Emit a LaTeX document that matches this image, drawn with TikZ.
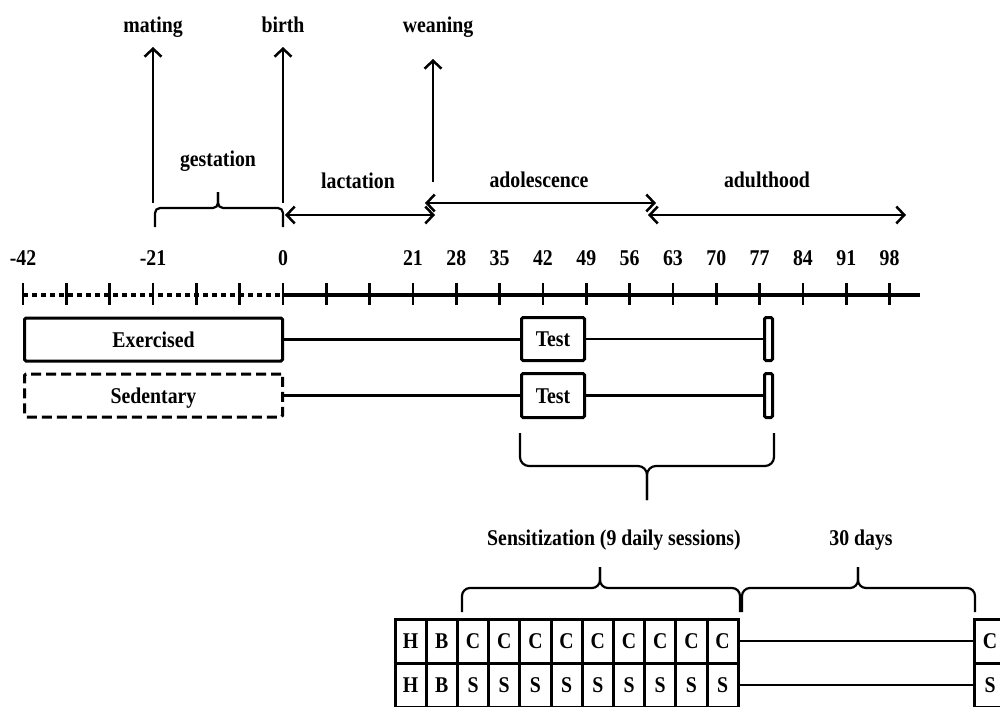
\documentclass[tikz,border=0pt]{standalone}
\usepackage{fontspec}
\setmainfont{Liberation Serif}[FakeStretch=0.88]
\usetikzlibrary{arrows.meta}
\tikzset{mytip/.tip={Straight Barb[length=8pt,width=17pt,line width=2.5pt]}}
\begin{document}
\begin{tikzpicture}[x=1pt,y=-1pt,
  lbl/.style={font=\fontsize{22.5}{27}\selectfont\bfseries, inner sep=0pt, anchor=base},
  box/.style={draw, line width=3pt, font=\fontsize{22.5}{27}\selectfont\bfseries, inner sep=0pt, text height=15pt, text depth=0pt, rounded corners=1.5pt},
  dbox/.style={box, dash pattern=on 10pt off 5pt},
  cell/.style={draw, line width=3pt, font=\fontsize{22.5}{27}\selectfont\bfseries, inner sep=0pt, text height=15pt, text depth=0pt, minimum width=31.2pt, minimum height=44pt},
  conn/.style={line width=2.2pt},
  tick/.style={line width=2.5pt},
  brc/.style={line width=2.2pt, rounded corners=7pt},
  arr/.style={line width=2.5pt, -{mytip}},
  darr/.style={line width=2.5pt, {mytip}-{mytip}}]
\useasboundingbox (0,0) rectangle (1000,706);

% top labels
\node[lbl] (mating) at (153,33) {mating};
\node[lbl] (birth) at (283,33) {birth};
\node[lbl] (weaning) at (438,33) {weaning};
\node[lbl] (gest) at (218,166) {gestation};
\node[lbl] (lact) at (358,188) {lactation};
\node[lbl] (adol) at (539,187) {adolescence};
\node[lbl] (adult) at (767,187) {adulthood};

% event arrows
\coordinate (m0) at (153,203); \coordinate (m1) at (153,47);
\coordinate (b0) at (283,203); \coordinate (b1) at (283,47);
\coordinate (w0) at (433,182); \coordinate (w1) at (433,59);
\draw[arr] (m0) -- (m1);
\draw[arr] (b0) -- (b1);
\draw[arr] (w0) -- (w1);

% period arrows
\coordinate (la0) at (285,215); \coordinate (la1) at (435,215);
\coordinate (ad0) at (425,203); \coordinate (ad1) at (656,203);
\coordinate (au0) at (648,215); \coordinate (au1) at (906,215);
\draw[darr] (la0) -- (la1);
\draw[darr] (ad0) -- (ad1);
\draw[darr] (au0) -- (au1);

% gestation brace
\draw[brc, rounded corners=5pt] (155,227) -- (155,208) -- (218,208) -- (218,192);
\draw[brc, rounded corners=5pt] (283,227) -- (283,208) -- (218,208) -- (218,192);

% axis
\draw[line width=4pt, dash pattern=on 5pt off 4pt] (23,295) -- (283,295);
\draw[line width=4.5pt] (283,295) -- (920,295);
\foreach \k in {0,...,20} \draw[tick] (23+43.33*\k,283) -- ++(0,22);
\foreach \k/\t in {0/-42,3/-21,6/0,9/21,10/28,11/35,12/42,13/49,14/56,15/63,16/70,17/77,18/84,19/91,20/98}
  \node[lbl] (n\k) at (23+43.33*\k,265) {\t};

% group boxes
\node[box, minimum width=258pt, minimum height=43pt] (ex) at (153.5,339.5) {Exercised};
\node[dbox, minimum width=258pt, minimum height=43pt] (sed) at (153.5,395.5) {Sedentary};
\node[box, minimum width=63pt, minimum height=43pt] (t1) at (553,339) {Test};
\node[box, minimum width=63pt, minimum height=44pt] (t2) at (553,395.5) {Test};
\node[box, minimum width=8pt, minimum height=43pt] (e1) at (768.5,339) {};
\node[box, minimum width=8pt, minimum height=44pt] (e2) at (768.5,395.5) {};
\draw[conn] (ex.east) -- (ex.east -| t1.west);
\draw[conn] (sed.east) -- (sed.east -| t2.west);
\draw[conn] (t1.east) -- (t1.east -| e1.west);
\draw[conn] (t2.east) -- (t2.east -| e2.west);

% brace under tests
\draw[brc, rounded corners=9pt] (520,433) -- (520,466) -- (647,466) -- (647,500);
\draw[brc, rounded corners=9pt] (774,433) -- (774,466) -- (647,466) -- (647,500);

% sensitization
\node[lbl] (sens) at (614,545) {Sensitization (9 daily sessions)};
\node[lbl] (thirty) at (861,545) {30 days};
\draw[brc, rounded corners=8pt] (462,612) -- (462,588) -- (600,588) -- (600,567);
\draw[brc, rounded corners=8pt] (740,612) -- (740,588) -- (600,588) -- (600,567);
\draw[brc, rounded corners=8pt] (742,612) -- (742,588) -- (858,588) -- (858,567);
\draw[brc, rounded corners=8pt] (975,612) -- (975,588) -- (858,588) -- (858,567);

% grid
\foreach \i/\a/\b in {1/H/H,2/B/B,3/C/S,4/C/S,5/C/S,6/C/S,7/C/S,8/C/S,9/C/S,10/C/S,11/C/S} {
  \node[cell] (c\i) at (395+31.2*\i-15.6,641) {\a};
  \node[cell] (s\i) at (395+31.2*\i-15.6,685) {\b};
}
\node[cell] (rc) at (990,641) {C};
\node[cell] (rs) at (990,685) {S};
\draw[conn] (c11.east) -- (rc.west);
\draw[conn] (s11.east) -- (rs.west);
\end{tikzpicture}
\end{document}
